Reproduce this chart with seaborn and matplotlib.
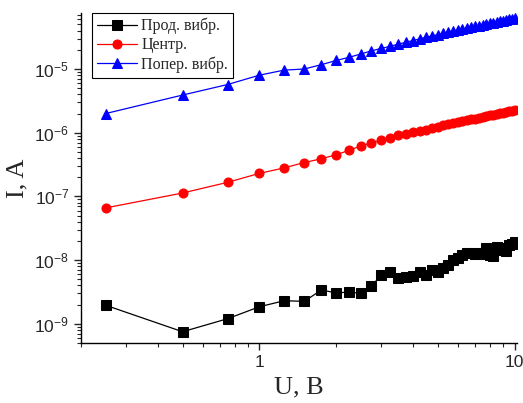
import numpy as np
import pandas as pd
import matplotlib
matplotlib.use("Agg")
import matplotlib.pyplot as plt
import matplotlib.ticker as mticker
import seaborn as sns

U = [0.25, 0.5, 0.75, 1.0, 1.25, 1.5, 1.75, 2.0, 2.25, 2.5, 2.75, 3.0, 3.25, 3.5,
     3.75, 4.0, 4.25, 4.5, 4.75, 5.0, 5.25, 5.5, 5.75, 6.0, 6.25, 6.5, 6.75, 7.0,
     7.25, 7.5, 7.75, 8.0, 8.25, 8.5, 8.75, 9.0, 9.25, 9.5, 9.75, 10.0]

prod = [1.95e-9, 7.5e-10, 1.2e-9, 1.85e-9, 2.3e-9, 2.25e-9, 3.4e-9, 3.05e-9, 3.15e-9,
        3.0e-9, 3.85e-9, 5.9e-9, 6.45e-9, 5.2e-9, 5.5e-9, 5.6e-9, 6.6e-9, 5.8e-9,
        7.1e-9, 6.5e-9, 7.5e-9, 8.4e-9, 1.0e-8, 1.06e-8, 1.2e-8, 1.3e-8, 1.27e-8,
        1.23e-8, 1.27e-8, 1.23e-8, 1.55e-8, 1.2e-8, 1.17e-8, 1.6e-8, 1.55e-8, 1.45e-8,
        1.37e-8, 1.7e-8, 1.8e-8, 1.9e-8]

centr = [6.6e-8, 1.13e-7, 1.66e-7, 2.3e-7, 2.8e-7, 3.4e-7, 3.9e-7, 4.5e-7, 5.3e-7,
         6.2e-7, 6.9e-7, 7.6e-7, 8.3e-7, 9.1e-7, 9.6e-7, 1.01e-6, 1.05e-6, 1.12e-6,
         1.19e-6, 1.25e-6, 1.3e-6, 1.35e-6, 1.41e-6, 1.47e-6, 1.52e-6, 1.57e-6,
         1.62e-6, 1.67e-6, 1.72e-6, 1.77e-6, 1.82e-6, 1.87e-6, 1.92e-6, 1.97e-6,
         2.02e-6, 2.07e-6, 2.12e-6, 2.16e-6, 2.2e-6, 2.24e-6]

poper = [2.0e-6, 3.9e-6, 5.7e-6, 8.0e-6, 9.6e-6, 1.0e-5, 1.17e-5, 1.36e-5, 1.53e-5,
         1.72e-5, 1.93e-5, 2.1e-5, 2.27e-5, 2.45e-5, 2.63e-5, 2.8e-5, 2.97e-5, 3.13e-5,
         3.3e-5, 3.46e-5, 3.62e-5, 3.78e-5, 3.93e-5, 4.08e-5, 4.23e-5, 4.37e-5,
         4.52e-5, 4.66e-5, 4.8e-5, 4.94e-5, 5.08e-5, 5.21e-5, 5.35e-5, 5.48e-5,
         5.62e-5, 5.75e-5, 5.88e-5, 6.01e-5, 6.14e-5, 6.3e-5]

labels = ["Прод. вибр.", "Центр.", "Попер. вибр."]
colors = ["black", "red", "blue"]
markers = ["s", "o", "^"]
y_ticks = [1e-9, 1e-8, 1e-7, 1e-6, 1e-5]
y_ticklabels = ["$10^{-9}$", "$10^{-8}$", "$10^{-7}$", "$10^{-6}$", "$10^{-5}$"]
x_ticks = [1, 10]
x_ticklabels = ["1", "10"]

sns.set_style("ticks")
plt.rcParams['font.family'] = ['Liberation Sans', 'DejaVu Sans']
plt.rcParams['mathtext.fontset'] = 'custom'
plt.rcParams['mathtext.rm'] = 'Liberation Sans'
plt.rcParams['mathtext.it'] = 'Liberation Sans'
plt.rcParams['mathtext.default'] = 'regular'

fig = plt.figure(figsize=(5.23, 4.03), dpi=100)
ax = fig.add_axes([0.155, 0.149, 0.834, 0.819])

for lab, ys, c, m in zip(labels, [prod, centr, poper], colors, markers):
    df = pd.DataFrame({"U": U, "I": ys})
    sns.lineplot(data=df, x="U", y="I", ax=ax, color=c, marker=m, markersize=6.5 if m != "^" else 7.5,
                 markeredgecolor=c, linewidth=0.9, label=lab, estimator=None, sort=False)

ax.set_xscale("log")
ax.set_yscale("log")
ax.set_xlim(0.2, 10.25)
ax.set_ylim(5.0e-10, 7.6e-5)

ax.xaxis.set_major_locator(mticker.FixedLocator(x_ticks))
ax.xaxis.set_major_formatter(mticker.FixedFormatter(x_ticklabels))
ax.xaxis.set_minor_locator(mticker.LogLocator(base=10, subs=np.arange(2, 10)))
ax.xaxis.set_minor_formatter(mticker.NullFormatter())

ax.yaxis.set_major_locator(mticker.FixedLocator(y_ticks))
ax.yaxis.set_major_formatter(mticker.FixedFormatter(y_ticklabels))
ax.yaxis.set_minor_locator(mticker.LogLocator(base=10, subs=np.arange(2, 10), numticks=20))
ax.yaxis.set_minor_formatter(mticker.NullFormatter())

ax.tick_params(axis="both", which="major", direction="out", length=5, width=1, labelsize=12.5)
ax.tick_params(axis="both", which="minor", direction="out", length=3, width=0.8)

sns.despine(ax=ax)
for s in ["left", "bottom"]:
    ax.spines[s].set_linewidth(1.0)
    ax.spines[s].set_color("black")

ax.set_xlabel("U, B", fontsize=19, family="Liberation Serif", labelpad=5)
ax.set_ylabel("I, A", fontsize=19, family="Liberation Serif", labelpad=4)

leg = ax.legend(loc="upper left", bbox_to_anchor=(0.025, 1.0), frameon=True, fancybox=False,
                edgecolor="black", framealpha=1, prop={"family": "Liberation Serif", "size": 11.5},
                handlelength=2.5, borderpad=0.3, labelspacing=0.2, handletextpad=0.3,
                borderaxespad=0.0)
leg.get_frame().set_linewidth(0.8)

fig.savefig("out.png", dpi=100)
